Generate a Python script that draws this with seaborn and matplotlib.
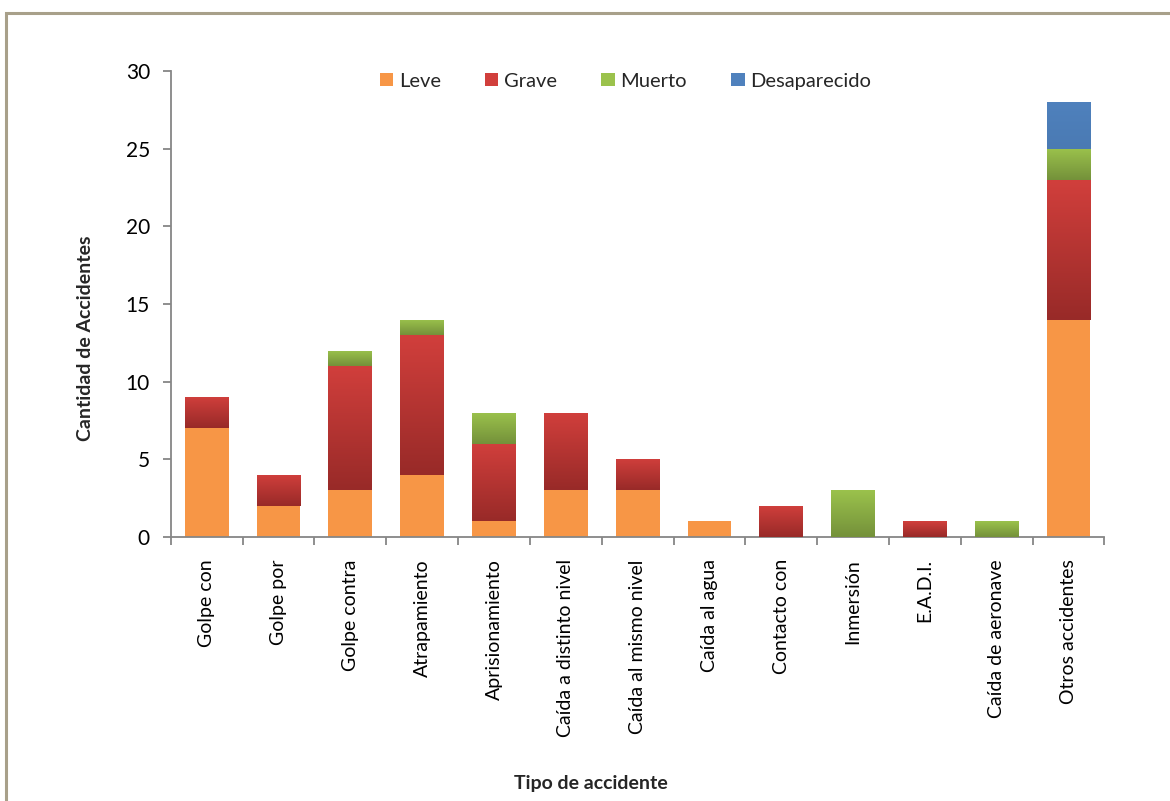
import numpy as np
import pandas as pd
import seaborn as sns
import matplotlib.pyplot as plt
from matplotlib.patches import Rectangle, Patch
from matplotlib.colors import LinearSegmentedColormap

# Data
categorias = ['Golpe con', 'Golpe por', 'Golpe contra', 'Atrapamiento', 'Aprisionamiento',
              'Caída a distinto nivel', 'Caída al mismo nivel', 'Caída al agua',
              'Contacto con', 'Inmersión', 'E.A.D.I.', 'Caída de aeronave', 'Otros accidentes']
leve = [7, 2, 3, 4, 1, 3, 3, 1, 0, 0, 0, 0, 14]
grave = [2, 2, 8, 9, 5, 5, 2, 0, 2, 0, 1, 0, 9]
muerto = [0, 0, 1, 1, 2, 0, 0, 0, 0, 3, 0, 1, 2]
desaparecido = [0, 0, 0, 0, 0, 0, 0, 0, 0, 0, 0, 0, 3]

series = ['Leve', 'Grave', 'Muerto', 'Desaparecido']
# (top colour, bottom colour) for the Excel-like gradient fill
colores = {'Leve': ('#F79646', '#F79646'),
           'Grave': ('#D13F3C', '#982A28'),
           'Muerto': ('#9BC24C', '#74913A'),
           'Desaparecido': ('#4F81BD', '#4A7AB3')}

sns.set_theme(style="white")
plt.rcParams['font.family'] = ['Lato', 'DejaVu Sans']

fig = plt.figure(figsize=(11.7, 8.01), dpi=100)
ax = fig.add_axes([0.146, 0.3296, 0.798, 0.5818])

df = pd.DataFrame({'Tipo': categorias, 'Leve': leve, 'Grave': grave,
                   'Muerto': muerto, 'Desaparecido': desaparecido})

bottom = np.zeros(len(categorias))
for s in series:
    top_c, bot_c = colores[s]
    sns.barplot(data=df, x='Tipo', y=s, bottom=bottom, color=top_c, width=0.61,
                saturation=1, ax=ax, linewidth=0, zorder=2)
    bottom = bottom + df[s].to_numpy()

# apply vertical gradients to each stacked segment
grad = np.linspace(1, 0, 256).reshape(-1, 1)
for i, s in enumerate(series):
    top_c, bot_c = colores[s]
    if top_c == bot_c:
        continue
    cmap = LinearSegmentedColormap.from_list(s, [bot_c, top_c])
    patches = ax.patches[i * len(categorias):(i + 1) * len(categorias)]
    for p in patches:
        h = p.get_height()
        if h <= 0:
            continue
        x0, y0 = p.get_x(), p.get_y()
        im = ax.imshow(grad, cmap=cmap, extent=[x0, x0 + p.get_width(), y0, y0 + h],
                       aspect='auto', zorder=3, origin='upper')
        im.set_clip_path(p)

ax.set_xlim(-0.5, len(categorias) - 0.5)
ax.set_ylim(0, 30)
ax.set_yticks([0, 5, 10, 15, 20, 25, 30])

for side in ['top', 'right']:
    ax.spines[side].set_visible(False)
for side in ['left', 'bottom']:
    ax.spines[side].set_color('#868686')
    ax.spines[side].set_linewidth(1.3)

ax.tick_params(axis='y', which='major', left=True, length=6, width=1.3, color='#868686',
               labelsize=15, pad=9, labelcolor='black')
ax.set_xticks(range(len(categorias)))
ax.set_xticklabels(categorias, rotation=90, fontsize=14, color='black')
ax.set_xticks(np.arange(-0.5, len(categorias)), minor=True)
ax.tick_params(axis='x', which='major', bottom=False, pad=10)
ax.tick_params(axis='x', which='minor', bottom=True, length=6, width=1.3, color='#868686')

ax.set_xlabel('Tipo de accidente', fontsize=14, fontweight='bold')
ax.set_ylabel('Cantidad de Accidentes', fontsize=14, fontweight='bold')
ax.xaxis.set_label_coords(0.45, -0.51)
ax.yaxis.set_label_coords(-0.082, 0.427)

handles = [Patch(facecolor=colores[s][0], edgecolor='none') for s in series]
ax.legend(handles, series, ncol=4, frameon=False, loc='upper center',
          bbox_to_anchor=(0.487, 1.035), fontsize=14.5, handlelength=0.65, handleheight=0.65,
          handletextpad=0.3, columnspacing=2.2)

# outer chart frame
fig.patches.append(Rectangle((6 / 1170, -0.05), 1.1, 1.05 - 13 / 801, transform=fig.transFigure,
                             fill=False, edgecolor='#A8A08A', linewidth=2.2, zorder=0))

fig.savefig('out.png', dpi=100)
